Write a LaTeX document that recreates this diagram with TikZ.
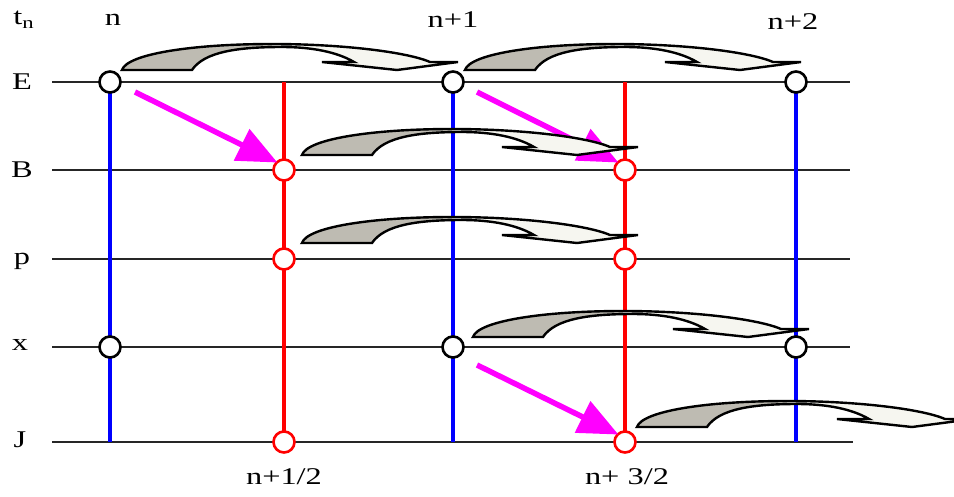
\documentclass[tikz,border=0pt]{standalone}
\usepackage{fontspec}
\setmainfont{Liberation Serif}
\usetikzlibrary{arrows.meta}
\definecolor{bodygray}{RGB}{190,187,178}
\definecolor{bodywhite}{RGB}{246,246,240}
\definecolor{mag}{RGB}{255,0,255}
\definecolor{pureblue}{RGB}{0,0,255}
\definecolor{purered}{RGB}{255,0,0}
\newcommand\widetext[1]{\scalebox{1.35}[1]{#1}}
\newcommand\carrowshape[1]{\path[#1] (0,0) .. controls (5,-16) and (70,-26) .. (150,-26) .. controls (220,-26) and (285,-18) .. (308,-8) -- (336,-8) -- (275,0) -- (200,-8) -- (232,-8) .. controls (215,-18) and (190,-23) .. (160,-23) .. controls (115,-23) and (82,-18) .. (70,0) -- cycle;}
\tikzset{
  hline/.style={line width=1.1pt, black!85},
  bluev/.style={line width=4pt, pureblue},
  redv/.style={line width=4pt, purered},
  bcirc/.style={circle, draw=black, line width=2.6pt, fill=white, minimum size=21pt, inner sep=0pt},
  rcirc/.style={circle, draw=purered, line width=2.6pt, fill=white, minimum size=21pt, inner sep=0pt},
  lab/.style={font=\fontsize{24}{27}\selectfont, inner sep=0pt},
  magarrow/.style={line width=5.5pt, mag, -{Triangle[length=40pt,width=34pt]}, shorten >=-2pt},
  carrow/.pic={
    \begin{scope}
      \clip (-5,-32) rectangle (150,5);
      \carrowshape{fill=bodygray}
    \end{scope}
    \begin{scope}
      \clip (150,-32) rectangle (345,5);
      \carrowshape{fill=bodywhite}
    \end{scope}
    \carrowshape{draw=black, line width=2.4pt, line join=miter}
  }
}
\begin{document}
\begin{tikzpicture}[x=1pt,y=-1pt]
\useasboundingbox (0,0) rectangle (954,496);
% row labels
\node[lab] (tn) at (24,20) {\widetext{t\textsubscript{n}}};
\node[lab] (lE) at (22,82) {\widetext{E}};
\node[lab] (lB) at (22,170) {\widetext{B}};
\node[lab] (lp) at (22,261) {\widetext{p}};
\node[lab] (lx) at (20,345) {\widetext{x}};
\node[lab] (lJ) at (20,440) {\widetext{J}};
% column labels
\node[lab] (cn) at (113,20) {\widetext{n}};
\node[lab] (cn1) at (453,20) {\widetext{n+1}};
\node[lab] (cn2) at (793,22) {\widetext{n+2}};
\node[lab] (cnh) at (284,477) {\widetext{n+1/2}};
\node[lab] (cn3h) at (627,477) {\widetext{n+ 3/2}};
% horizontal lines
\coordinate (hEl) at (52,82);  \coordinate (hEr) at (850,82);
\coordinate (hBl) at (52,170); \coordinate (hBr) at (850,170);
\coordinate (hpl) at (52,259); \coordinate (hpr) at (850,259);
\coordinate (hxl) at (52,347); \coordinate (hxr) at (850,347);
\coordinate (hJl) at (52,442); \coordinate (hJr) at (853,442);
\draw[hline] (hEl) -- (hEr);
\draw[hline] (hBl) -- (hBr);
\draw[hline] (hpl) -- (hpr);
\draw[hline] (hxl) -- (hxr);
\draw[hline] (hJl) -- (hJr);
% vertical lines
\coordinate (v1t) at (110,82);  \coordinate (v1b) at (110,442);
\coordinate (v2t) at (453,82);  \coordinate (v2b) at (453,442);
\coordinate (v3t) at (796,82);  \coordinate (v3b) at (796,442);
\coordinate (r1t) at (284,82);  \coordinate (r1b) at (284,442);
\coordinate (r2t) at (625,82);  \coordinate (r2b) at (625,442);
\draw[bluev] (v1t) -- (v1b);
\draw[bluev] (v2t) -- (v2b);
\draw[bluev] (v3t) -- (v3b);
\draw[redv] (r1t) -- (r1b);
\draw[redv] (r2t) -- (r2b);
% circles
\node[bcirc] (E0) at (110,82) {};
\node[bcirc] (E1) at (453,82) {};
\node[bcirc] (E2) at (796,82) {};
\node[bcirc] (X0) at (110,347) {};
\node[bcirc] (X1) at (453,347) {};
\node[bcirc] (X2) at (796,347) {};
\node[rcirc] (B0) at (284,170) {};
\node[rcirc] (P0) at (284,259) {};
\node[rcirc] (J0) at (284,442) {};
\node[rcirc] (B1) at (625,170) {};
\node[rcirc] (P1) at (625,259) {};
\node[rcirc] (J1) at (625,442) {};
% magenta arrows
\coordinate (m1s) at (135,92);
\coordinate (m2s) at (477,92);
\coordinate (m3s) at (477,365);
\draw[magarrow] (m1s) -- (B0.north west);
\draw[magarrow] (m2s) -- (B1.north west);
\draw[magarrow] (m3s) -- (J1.north west);
% curved arrows
\pic at (122,70) {carrow};
\pic at (465,70) {carrow};
\pic at (302,155) {carrow};
\pic at (302,243) {carrow};
\pic at (473,337) {carrow};
\pic at (637,427) {carrow};
\end{tikzpicture}
\end{document}
